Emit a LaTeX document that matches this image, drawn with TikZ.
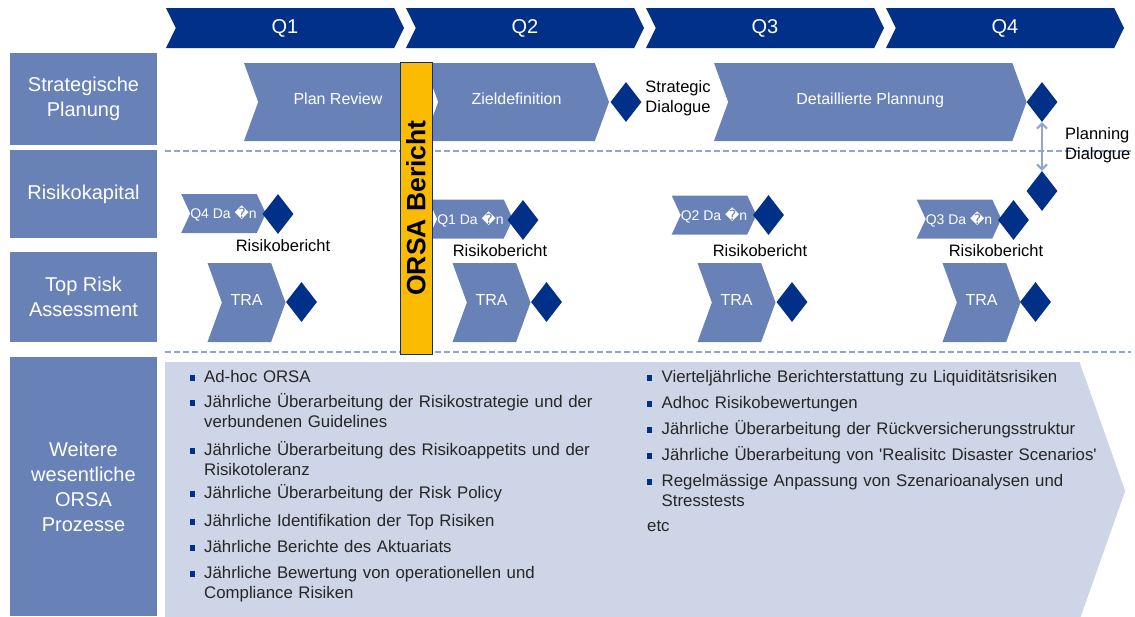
\documentclass[tikz,border=0pt]{standalone}
\usepackage{fontspec}
\setmainfont{Liberation Sans}
\newfontfamily\symfont{DejaVu Sans}
\usetikzlibrary{shapes.geometric, shapes.symbols, arrows.meta, positioning}
\definecolor{headcolor}{RGB}{0,48,135}
\definecolor{phasecolor}{RGB}{104,130,184}
\definecolor{lightcolor}{RGB}{205,213,230}
\definecolor{barcolor}{RGB}{250,187,0}
\definecolor{dashcolor}{RGB}{143,165,211}

\begin{document}
\begin{tikzpicture}[
    x=1pt, y=-1pt,
    quarter/.style={signal, signal to=east, signal from=west, fill=headcolor, text=white, minimum width=238pt, minimum height=40pt, signal pointer angle=128, inner sep=0pt, font=\fontsize{20}{24}\selectfont},
    lane/.style={fill=phasecolor, text=white, minimum width=147pt, align=center, inner sep=0pt, font=\fontsize{20}{25}\selectfont},
    phase/.style={signal, signal to=east, signal from=west, fill=phasecolor, text=white, minimum height=78pt, signal pointer angle=140, inner sep=0pt, text depth=6pt, font=\fontsize{16}{19}\selectfont},
    datachev/.style={signal, signal to=east, signal from=west, fill=phasecolor, text=white, minimum width=76pt, minimum height=39pt, signal pointer angle=130, inner sep=0pt, font=\fontsize{14}{16}\selectfont},
    tra/.style={phase, minimum width=78pt, minimum height=79pt},
    milestone/.style={diamond, fill=headcolor, minimum width=31pt, minimum height=40pt, inner sep=0pt},
    note/.style={font=\fontsize{16.5}{20}\selectfont, align=center, inner sep=0pt},
    orsa/.style={draw=headcolor, line width=1pt, fill=barcolor, rotate=90, minimum width=292pt, minimum height=32pt, inner sep=0pt, font=\fontsize{26.5}{30}\selectfont\bfseries},
    bigarrow/.style={signal, signal to=east, fill=lightcolor, minimum width=960pt, minimum height=258pt, signal pointer angle=141, inner sep=0pt},
    divider/.style={draw=dashcolor, line width=1.3pt, dash pattern=on 6pt off 3pt},
    dialog/.style={{Straight Barb[length=5pt,width=10pt]}-{Straight Barb[length=5pt,width=10pt]}, draw=dashcolor, line width=2pt},
    dot/.style={fill=headcolor, minimum width=5pt, minimum height=6pt, inner sep=0pt},
    listitem/.style={anchor=base west, font=\fontsize{16.8}{20.5}\selectfont, text width=480pt, align=left, inner sep=0pt, text=black!85}
]
    \useasboundingbox (0,0) rectangle (1135,616);

    % Quarters
    \node[quarter] (q1) at (285,28) {Q1};
    \node[quarter] (q2) at (525,28) {Q2};
    \node[quarter] (q3) at (765,28) {Q3};
    \node[quarter] (q4) at (1005,28) {Q4};

    % Lanes
    \node[lane, minimum height=92pt] (plan) at (83.5,99) {Strategische\\Planung};
    \node[lane, minimum height=88pt] (capital) at (83.5,194) {Risikokapital};
    \node[lane, minimum height=90pt] (toprisk) at (83.5,297) {Top Risk\\Assessment};
    \node[lane, minimum height=259pt] (further) at (83.5,486.5) {Weitere\\wesentliche\\ORSA\\Prozesse};

    % Dividers
    \draw[divider] (165,151) -- (1131,151);
    \draw[divider] (165,352) -- (1131,352);

    % Strategische Planung
    \node[phase, minimum width=188pt] (review) at (338,102) {Plan Review};
    \node[phase, minimum width=185pt] (goals) at (516.5,102) {Zieldefinition};
    \node[milestone] (goalsend) at (626,102) {};
    \node[note] (stratdia) at (678,98) {Strategic\\Dialogue};
    \node[phase, minimum width=312.5pt] (detail) at (870.25,102) {Detaillierte Plannung};
    \node[milestone] (detailend) at (1042,102) {};
    \node[milestone] (capitalend) at (1042,191) {};
    \draw[dialog] (detailend) -- (capitalend);
    \node[note, anchor=west, align=left] (plandia) at (1065,145) {Planning\\Dialogue};

    % Risikokapital
    \node[datachev] (data4) at (223.5,213.5) {Q4 Da {\symfont �}n};
    \node[milestone] (rep4) at (278,214) {};
    \node[note] (replabel4) at (283,246) {Risikobericht};
    \node[datachev] (data1) at (470.5,219) {Q1 Da {\symfont �}n};
    \node[milestone] (rep1) at (523,220) {};
    \node[note] (replabel1) at (500,251) {Risikobericht};
    \node[datachev] (data2) at (714,215) {Q2 Da {\symfont �}n};
    \node[milestone] (rep2) at (768.5,215) {};
    \node[note] (replabel2) at (760,251) {Risikobericht};
    \node[datachev] (data3) at (959,219) {Q3 Da {\symfont �}n};
    \node[milestone] (rep3) at (1013.5,220) {};
    \node[note] (replabel3) at (996,251) {Risikobericht};

    % Top Risk Assessment
    \node[tra] (tra1) at (246.5,302.5) {TRA};
    \node[milestone] (traend1) at (301.5,302) {};
    \node[tra] (tra2) at (491.5,302.5) {TRA};
    \node[milestone] (traend2) at (546.5,302) {};
    \node[tra] (tra3) at (736.5,302.5) {TRA};
    \node[milestone] (traend3) at (792,302) {};
    \node[tra] (tra4) at (981.5,302.5) {TRA};
    \node[milestone] (traend4) at (1035.5,302) {};

    % ORSA Bericht
    \node[orsa] (orsabar) at (416,208) {ORSA Bericht};

    % Weitere Prozesse
    \node[bigarrow, anchor=west] (processes) at (165,491) {};

    \node[dot] (dotl1) at (192.5,378) {};
    \node[listitem] (iteml1) at (204,382) {Ad-hoc ORSA};
    \node[dot] (dotl2) at (192.5,403) {};
    \node[listitem] (iteml2) at (204,407) {Jährliche Überarbeitung der Risikostrategie und der\\verbundenen Guidelines};
    \node[dot] (dotl3) at (192.5,451) {};
    \node[listitem] (iteml3) at (204,455) {Jährliche Überarbeitung des Risikoappetits und der\\Risikotoleranz};
    \node[dot] (dotl4) at (192.5,494) {};
    \node[listitem] (iteml4) at (204,498) {Jährliche Überarbeitung der Risk Policy};
    \node[dot] (dotl5) at (192.5,522) {};
    \node[listitem] (iteml5) at (204,526) {Jährliche Identifikation der Top Risiken};
    \node[dot] (dotl6) at (192.5,548) {};
    \node[listitem] (iteml6) at (204,552) {Jährliche Berichte des Aktuariats};
    \node[dot] (dotl7) at (192.5,574) {};
    \node[listitem] (iteml7) at (204,578) {Jährliche Bewertung von operationellen und\\Compliance Risiken};

    \node[dot] (dotr1) at (649,378) {};
    \node[listitem] (itemr1) at (661.5,382) {Vierteljährliche Berichterstattung zu Liquiditätsrisiken};
    \node[dot] (dotr2) at (649,404) {};
    \node[listitem] (itemr2) at (661.5,408) {Adhoc Risikobewertungen};
    \node[dot] (dotr3) at (649,430) {};
    \node[listitem] (itemr3) at (661.5,434) {Jährliche Überarbeitung der Rückversicherungsstruktur};
    \node[dot] (dotr4) at (649,456) {};
    \node[listitem] (itemr4) at (661.5,460) {Jährliche Überarbeitung von \textquotesingle Realisitc Disaster Scenarios\textquotesingle};
    \node[dot] (dotr5) at (649,482) {};
    \node[listitem] (itemr5) at (661.5,486) {Regelmässige Anpassung von Szenarioanalysen und\\Stresstests};
    \node[listitem] (etc) at (647,531) {etc};
\end{tikzpicture}
\end{document}
